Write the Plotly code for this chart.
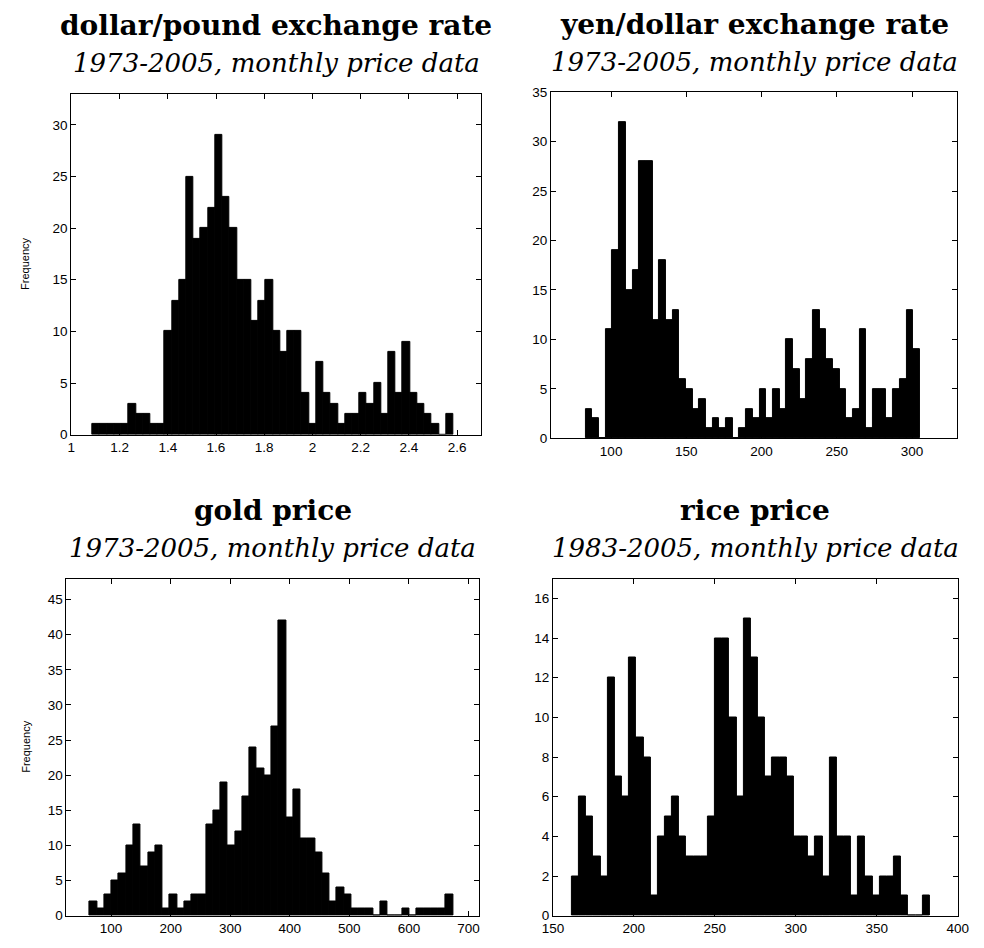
import plotly.graph_objects as go

# ---------------- data ----------------
gbp_counts = [1, 1, 1, 1, 1, 3, 2, 2, 1, 1,
              10, 13, 15, 25, 19, 20, 22, 29, 23, 20,
              15, 15, 11, 13, 15, 10, 8, 10, 10, 4,
              1, 7, 4, 3, 1, 2, 2, 4, 3, 5,
              2, 8, 4, 9, 4, 3, 2, 1, 0, 2]
gbp_edges = [1.088, 2.584]

jpy_counts = [3, 2, 0, 11, 19, 32, 15, 17, 28, 28,
              12, 18, 12, 13, 6, 5, 3, 4, 1, 2,
              1, 2, 0, 1, 3, 2, 5, 2, 5, 3,
              10, 7, 4, 8, 13, 11, 8, 7, 5, 2,
              3, 11, 1, 5, 5, 2, 5, 6, 13, 9]
jpy_edges = [83.1, 305.2]

gold_counts = [2, 1, 3, 5, 6, 10, 13, 7, 9, 10,
               1, 3, 1, 2, 3, 3, 13, 15, 19, 10,
               12, 17, 24, 21, 20, 27, 42, 14, 18, 11,
               11, 9, 6, 2, 4, 3, 1, 1, 1, 0,
               2, 0, 0, 1, 0, 1, 1, 1, 1, 3]
gold_edges = [64.3, 674.1]

rice_counts = [2, 6, 5, 3, 2, 12, 7, 6, 13, 9,
               8, 1, 4, 5, 6, 4, 3, 3, 3, 5,
               14, 14, 10, 6, 15, 13, 10, 7, 8, 8,
               7, 4, 4, 3, 4, 2, 8, 4, 4, 1,
               4, 2, 1, 2, 2, 3, 1, 0, 0, 1]
rice_edges = [161.7, 382.8]

titles = ["dollar/pound exchange rate", "yen/dollar exchange rate",
          "gold price", "rice price"]
subtitles = ["1973-2005, monthly price data", "1973-2005, monthly price data",
             "1973-2005, monthly price data", "1983-2005, monthly price data"]

gbp_xticks = [1, 1.2, 1.4, 1.6, 1.8, 2, 2.2, 2.4, 2.6]
jpy_xticks = [100, 150, 200, 250, 300]
gold_xticks = [100, 200, 300, 400, 500, 600, 700]
rice_xticks = [150, 200, 250, 300, 350, 400]
gbp_yticks = [0, 5, 10, 15, 20, 25, 30]
jpy_yticks = [0, 5, 10, 15, 20, 25, 30, 35]
gold_yticks = [0, 5, 10, 15, 20, 25, 30, 35, 40, 45]
rice_yticks = [0, 2, 4, 6, 8, 10, 12, 14, 16]

# ---------------- figure ----------------
W, H = 984, 948

panels = [
    dict(counts=gbp_counts, edges=gbp_edges, xt=gbp_xticks, yt=gbp_yticks,
         xr=[1, 2.7], yr=[0, 33], box=(61.7, 481.0, 88.3, 434.5), ylab=True),
    dict(counts=jpy_counts, edges=jpy_edges, xt=jpy_xticks, yt=jpy_yticks,
         xr=[60, 330], yr=[0, 35], box=(552.3, 967.8, 86.5, 438.3), ylab=False),
    dict(counts=gold_counts, edges=gold_edges, xt=gold_xticks, yt=gold_yticks,
         xr=[25, 717], yr=[0, 48], box=(56.7, 478.3, 580.7, 923.3), ylab=True),
    dict(counts=rice_counts, edges=rice_edges, xt=rice_xticks, yt=rice_yticks,
         xr=[150, 400], yr=[0, 17], box=(554.3, 968.3, 580.7, 923.3), ylab=False),
]

fig = go.Figure()
layout = dict(width=W, height=H, margin=dict(l=0, r=0, t=0, b=0),
              paper_bgcolor="white", plot_bgcolor="white",
              showlegend=False, bargap=0, annotations=[])

tick_font = dict(family="Liberation Sans, Arial, sans-serif", size=13.5, color="black")

for i, p in enumerate(panels):
    n = len(p["counts"])
    lo, hi = p["edges"]
    w = (hi - lo) / n
    centers = [lo + (k + 0.5) * w for k in range(n)]
    sfx = "" if i == 0 else str(i + 1)
    fig.add_trace(go.Bar(x=centers, y=p["counts"], width=w,
                         marker=dict(color="black", line=dict(color="black", width=1)),
                         xaxis="x" + sfx, yaxis="y" + sfx, hoverinfo="x+y"))
    x0, x1, y0, y1 = p["box"]
    common = dict(showline=True, linecolor="black", linewidth=1, mirror="allticks",
                  ticks="inside", ticklen=5, tickwidth=1, tickcolor="black",
                  showgrid=False, zeroline=False, tickfont=tick_font)
    layout["xaxis" + sfx] = dict(domain=[x0 / W, x1 / W], range=p["xr"],
                                 tickmode="array", tickvals=p["xt"],
                                 anchor="y" + sfx, **common)
    layout["yaxis" + sfx] = dict(domain=[1 - y1 / H, 1 - y0 / H], range=p["yr"],
                                 tickmode="array", tickvals=p["yt"],
                                 anchor="x" + sfx, **common)
    cx = (x0 + x1) / 2 / W
    top = y0
    layout["annotations"].append(dict(
        text="<b>" + titles[i] + "</b>", x=cx, y=1 - (top - 69) / H,
        xref="paper", yref="paper", xanchor="center", yanchor="middle",
        showarrow=False,
        font=dict(family="DejaVu Serif, serif", size=28, color="black")))
    layout["annotations"].append(dict(
        text="<i>" + subtitles[i] + "</i>", x=cx, y=1 - (top - 31) / H,
        xref="paper", yref="paper", xanchor="center", yanchor="middle",
        showarrow=False,
        font=dict(family="DejaVu Serif, serif", size=26, color="black")))
    if p["ylab"]:
        layout["annotations"].append(dict(
            text="Frequency", x=15 / W, y=1 - (y0 + y1) / 2 / H,
            xref="paper", yref="paper", xanchor="center", yanchor="middle",
            textangle=-90, showarrow=False,
            font=dict(family="Liberation Sans, Arial, sans-serif", size=11, color="black")))

fig.update_layout(**layout)
fig.write_html("out.html", config={"displayModeBar": False},
               post_script="document.body.style.margin='0';document.body.style.padding='0';")
